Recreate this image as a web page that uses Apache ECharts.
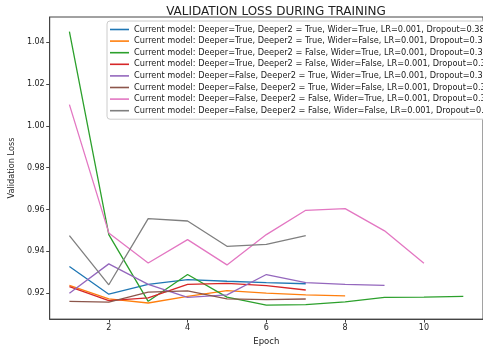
<!DOCTYPE html>
<html>
<head>
<meta charset="utf-8">
<script src="https://cdn.jsdelivr.net/npm/echarts@6/dist/echarts.min.js"></script>
<style>html,body{margin:0;padding:0;background:#fff;}#c{width:483px;height:351px;}</style>
</head>
<body>
<div id="c"></div>
<script>
const epochs = [1,2,3,4,5,6,7,8,9,10,11];
const seriesNames = [
  "Current model: Deeper=True, Deeper2 = True, Wider=True, LR=0.001, Dropout=0.38",
  "Current model: Deeper=True, Deeper2 = True, Wider=False, LR=0.001, Dropout=0.38",
  "Current model: Deeper=True, Deeper2 = False, Wider=True, LR=0.001, Dropout=0.38",
  "Current model: Deeper=True, Deeper2 = False, Wider=False, LR=0.001, Dropout=0.38",
  "Current model: Deeper=False, Deeper2 = True, Wider=True, LR=0.001, Dropout=0.38",
  "Current model: Deeper=False, Deeper2 = True, Wider=False, LR=0.001, Dropout=0.38",
  "Current model: Deeper=False, Deeper2 = False, Wider=True, LR=0.001, Dropout=0.38",
  "Current model: Deeper=False, Deeper2 = False, Wider=False, LR=0.001, Dropout=0.38"
];
const blueLoss   = [0.9327,0.9195,0.9242,0.9265,0.9257,0.9250,0.9245];
const orangeLoss = [0.9237,0.9173,0.9153,0.9185,0.9212,0.9200,0.9192,0.9187];
const greenLoss  = [1.0450,0.9480,0.9161,0.9289,0.9181,0.9143,0.9145,0.9158,0.9180,0.9181,0.9185];
const redLoss    = [0.9231,0.9164,0.9177,0.9242,0.9247,0.9236,0.9215];
const purpleLoss = [0.9200,0.9340,0.9242,0.9180,0.9192,0.9289,0.9250,0.9242,0.9237];
const brownLoss  = [0.9161,0.9157,0.9205,0.9211,0.9173,0.9169,0.9172];
const pinkLoss   = [1.0101,0.9488,0.9344,0.9456,0.9335,0.9480,0.9596,0.9604,0.9498,0.9343];
const grayLoss   = [0.9475,0.9240,0.9556,0.9545,0.9424,0.9433,0.9475];
const yTicks = [0.92,0.94,0.96,0.98,1.00,1.02,1.04];
const xTicks = [2,4,6,8,10];
const colors = ['#1f77b4','#ff7f0e','#2ca02c','#d62728','#9467bd','#8c564b','#e377c2','#7f7f7f'];
const allLoss = [blueLoss,orangeLoss,greenLoss,redLoss,purpleLoss,brownLoss,pinkLoss,grayLoss];

const font = 'DejaVu Sans';
const chart = echarts.init(document.getElementById('c'), null, {renderer:'canvas'});
chart.setOption({
  animation:false,
  backgroundColor:'#fff',
  color: colors,
  textStyle:{fontFamily:font},
  title:{
    text:'VALIDATION LOSS DURING TRAINING',
    left:271, top:1, textAlign:'center',
    textStyle:{fontFamily:font, fontSize:12, fontWeight:'normal', color:'#222'}
  },
  legend:{
    orient:'vertical', left:107, top:21,
    icon:'rect', itemWidth:19, itemHeight:1.6,
    itemGap:0.6,
    padding:[3,3,3,3],
    backgroundColor:'#fff', borderColor:'#ccc', borderWidth:1, borderRadius:3,
    textStyle:{fontFamily:font, fontSize:8.2, color:'#222', lineHeight:11},
    data: seriesNames
  },
  grid:{left:45, top:17, bottom:24.3, right:-17, show:true, borderColor:'#444', borderWidth:1, backgroundColor:'transparent'},
  xAxis:{
    type:'value', min:0.5, max:11.5,
    name:'Epoch', nameLocation:'middle', nameGap:16,
    nameTextStyle:{fontFamily:font, fontSize:8.5, color:'#222'},
    axisLine:{show:true, lineStyle:{color:'#444'}},
    axisTick:{show:true, length:3.5, customValues:xTicks, lineStyle:{color:'#444'}},
    axisLabel:{customValues:xTicks, fontFamily:font, fontSize:8, color:'#222', margin:5},
    splitLine:{show:false}
  },
  yAxis:{
    type:'value', min:0.9076, max:1.052,
    name:'Validation Loss', nameLocation:'middle', nameGap:31, nameRotate:90,
    nameTextStyle:{fontFamily:font, fontSize:8.2, color:'#222'},
    axisLine:{show:true, lineStyle:{color:'#444'}},
    axisTick:{show:true, length:3.5, customValues:yTicks, lineStyle:{color:'#444'}},
    axisLabel:{customValues:yTicks, fontFamily:font, fontSize:8, color:'#222', margin:5,
      formatter:v=>v.toFixed(2)},
    splitLine:{show:false}
  },
  series: allLoss.map((arr,i)=>({
    name: seriesNames[i],
    type:'line',
    symbol:'none',
    lineStyle:{width:1.3, color:colors[i]},
    itemStyle:{color:colors[i]},
    data: arr.map((v,j)=>[epochs[j], v])
  }))
});
</script>
</body>
</html>
